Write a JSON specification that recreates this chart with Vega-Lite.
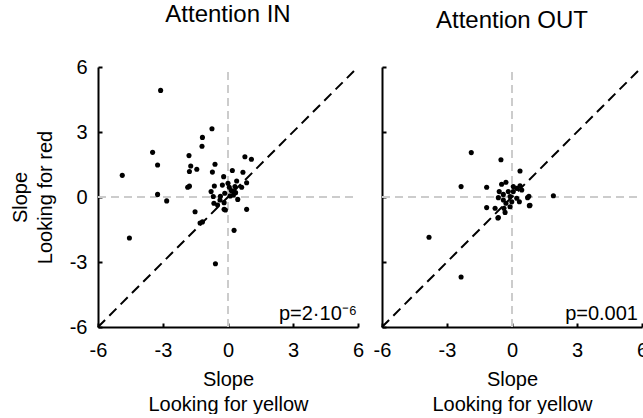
{
  "$schema": "https://vega.github.io/schema/vega-lite/v6.json",
  "padding": {"left": 10, "top": 3, "right": 0, "bottom": 0},
  "config": {
    "font": "Liberation Sans",
    "view": {"stroke": null},
    "axis": {"domainColor": "black", "domainWidth": 2, "tickColor": "black", "tickWidth": 2, "tickSize": -4, "labelFontSize": 20, "labelColor": "black", "titleFontSize": 20, "titleFontWeight": "normal", "titleColor": "black", "grid": false, "labelPadding": 15, "titleLineHeight": 25, "titlePadding": 8, "labelFlush": false, "labelExpr": "'' + datum.value"},
    "axisX": {"labelPadding": 17, "titlePadding": 9},
    "title": {"fontSize": 24, "fontWeight": "normal", "color": "black", "offset": 30}
  },
  "datasets": {
    "refs": [
      {"line": "v", "x": 0, "y": -6}, {"line": "v", "x": 0, "y": 6},
      {"line": "h", "x": -6, "y": 0}, {"line": "h", "x": 6, "y": 0},
      {"line": "d", "x": -6, "y": -6}, {"line": "d", "x": 6, "y": 6}
    ],
    "attin": [
      {"x": -3.11, "y": 4.92}, {"x": -4.88, "y": 1.0}, {"x": -3.48, "y": 2.06}, {"x": -3.25, "y": 1.48},
      {"x": -3.25, "y": 0.12}, {"x": -2.83, "y": -0.18}, {"x": -4.55, "y": -1.89}, {"x": -0.74, "y": 3.15},
      {"x": -1.18, "y": 2.75}, {"x": -1.2, "y": 2.34}, {"x": -1.8, "y": 1.91}, {"x": -1.72, "y": 1.43},
      {"x": -1.78, "y": 1.18}, {"x": -1.44, "y": 1.28}, {"x": -0.6, "y": 1.51}, {"x": -0.72, "y": 1.15},
      {"x": 0.78, "y": 1.86}, {"x": 1.08, "y": 1.74}, {"x": 0.69, "y": 1.14}, {"x": 0.2, "y": 1.22},
      {"x": -0.2, "y": 0.94}, {"x": 0.86, "y": 0.66}, {"x": 0.4, "y": 0.74}, {"x": -1.86, "y": 0.45},
      {"x": -1.78, "y": 0.5}, {"x": -0.63, "y": 0.51}, {"x": -0.26, "y": 0.55}, {"x": 0.0, "y": 0.63},
      {"x": 0.06, "y": 0.45}, {"x": 0.32, "y": 0.48}, {"x": 0.63, "y": 0.45}, {"x": -0.78, "y": 0.25},
      {"x": -0.15, "y": 0.17}, {"x": 0.25, "y": 0.25}, {"x": -0.68, "y": 0.02}, {"x": -0.35, "y": 0.03},
      {"x": 0.25, "y": 0.09}, {"x": 0.45, "y": -0.11}, {"x": -0.65, "y": -0.29}, {"x": -0.48, "y": -0.37},
      {"x": -0.18, "y": -0.26}, {"x": -0.37, "y": -0.14}, {"x": -0.18, "y": -0.57}, {"x": -0.12, "y": -0.6},
      {"x": -1.52, "y": -0.68}, {"x": 0.86, "y": -0.57}, {"x": -1.29, "y": -1.2}, {"x": -1.18, "y": -1.15},
      {"x": -0.58, "y": -3.08}, {"x": 0.28, "y": -1.54}, {"x": 0.15, "y": 0.3}, {"x": 0.35, "y": 0.2},
      {"x": 0.1, "y": 0.05}
    ],
    "attout": [
      {"x": -1.88, "y": 2.05}, {"x": -0.51, "y": 1.72}, {"x": 0.37, "y": 1.2}, {"x": -2.35, "y": 0.48},
      {"x": -1.17, "y": 0.45}, {"x": -3.83, "y": -1.86}, {"x": -2.35, "y": -3.69}, {"x": 1.91, "y": 0.06},
      {"x": 0.78, "y": 0.03}, {"x": 0.83, "y": -0.38}, {"x": -1.17, "y": -0.49}, {"x": -0.78, "y": -0.52},
      {"x": -0.65, "y": -0.97}, {"x": -0.32, "y": -0.71}, {"x": -0.09, "y": -0.45}, {"x": -0.48, "y": 0.59},
      {"x": -0.28, "y": 0.68}, {"x": 0.06, "y": 0.48}, {"x": 0.37, "y": 0.52}, {"x": 0.22, "y": 0.4},
      {"x": 0.45, "y": 0.32}, {"x": -0.59, "y": 0.25}, {"x": -0.4, "y": 0.12}, {"x": -0.17, "y": 0.25},
      {"x": -0.09, "y": 0.02}, {"x": -0.63, "y": -0.03}, {"x": -0.4, "y": -0.14}, {"x": 0.22, "y": -0.06},
      {"x": 0.34, "y": -0.22}, {"x": 0.72, "y": -0.03}, {"x": 0.8, "y": -0.4}, {"x": -0.28, "y": -0.29},
      {"x": -0.37, "y": -0.52}, {"x": -0.01, "y": -0.22}, {"x": 0.06, "y": 0.25}, {"x": -0.63, "y": -0.95}
    ]
  },
  "bounds": "flush",
  "spacing": 24,
  "hconcat": [
    {
      "width": 260, "height": 260,
      "title": "Attention IN",
      "encoding": {
        "x": {"field": "x", "type": "quantitative", "scale": {"domain": [-6, 6], "nice": false, "zero": false},
              "axis": {"values": [-6, -3, 0, 3, 6], "title": ["Slope", "Looking for yellow"]}},
        "y": {"field": "y", "type": "quantitative", "scale": {"domain": [-6, 6], "nice": false, "zero": false},
              "axis": {"values": [-6, -3, 0, 3, 6], "title": ["Slope", "Looking for red"], "titlePadding": 14}}
      },
      "layer": [
        {"data": {"name": "refs"}, "transform": [{"filter": "datum.line != 'd'"}],
         "mark": {"type": "line", "color": "#cccccc", "strokeWidth": 2, "strokeDash": [8, 5]},
         "encoding": {"detail": {"field": "line"}}},
        {"data": {"name": "refs"}, "transform": [{"filter": "datum.line == 'd'"}],
         "mark": {"type": "line", "color": "black", "strokeWidth": 2, "strokeDash": [10, 6]},
         "encoding": {}},
        {"data": {"name": "attin"}, "mark": {"type": "circle", "size": 26, "color": "black", "opacity": 1}},
        {"data": {"values": [{"x": 6, "y": -6, "p": "p=2·10⁻⁶"}]},
         "mark": {"type": "text", "align": "right", "baseline": "bottom", "fontSize": 20, "dx": -1, "dy": -3, "color": "black"},
         "encoding": {"text": {"field": "p"}}}
      ]
    },
    {
      "width": 260, "height": 260,
      "title": "Attention OUT",
      "encoding": {
        "x": {"field": "x", "type": "quantitative", "scale": {"domain": [-6, 6], "nice": false, "zero": false},
              "axis": {"values": [-6, -3, 0, 3, 6], "title": ["Slope", "Looking for yellow"]}},
        "y": {"field": "y", "type": "quantitative", "scale": {"domain": [-6, 6], "nice": false, "zero": false},
              "axis": {"values": [-6, -3, 0, 3, 6], "labels": false, "title": null}}
      },
      "layer": [
        {"data": {"name": "refs"}, "transform": [{"filter": "datum.line != 'd'"}],
         "mark": {"type": "line", "color": "#cccccc", "strokeWidth": 2, "strokeDash": [8, 5]},
         "encoding": {"detail": {"field": "line"}}},
        {"data": {"name": "refs"}, "transform": [{"filter": "datum.line == 'd'"}],
         "mark": {"type": "line", "color": "black", "strokeWidth": 2, "strokeDash": [10, 6]},
         "encoding": {}},
        {"data": {"name": "attout"}, "mark": {"type": "circle", "size": 26, "color": "black", "opacity": 1}},
        {"data": {"values": [{"x": 6, "y": -6, "p": "p=0.001"}]},
         "mark": {"type": "text", "align": "right", "baseline": "bottom", "fontSize": 20, "dx": -4, "dy": -3, "color": "black"},
         "encoding": {"text": {"field": "p"}}}
      ]
    }
  ]
}
